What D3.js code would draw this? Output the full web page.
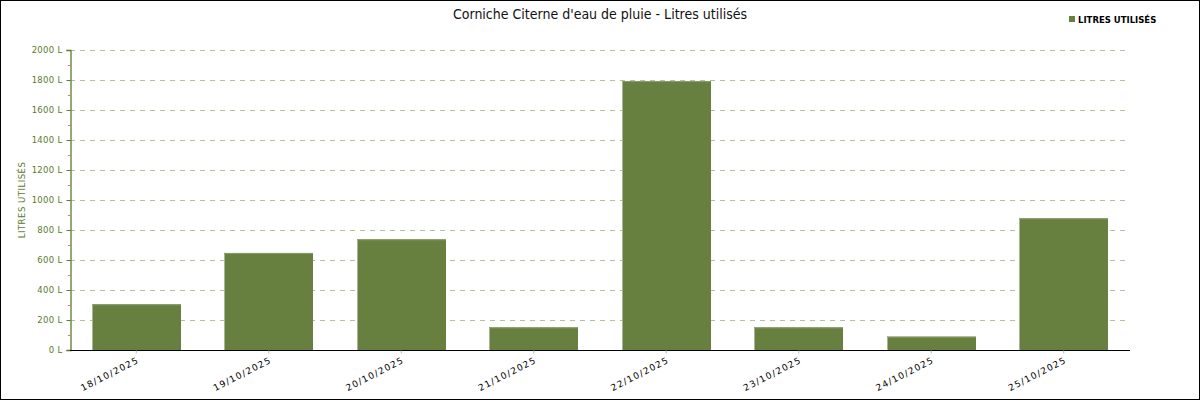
<!DOCTYPE html>
<html><head><meta charset="utf-8">
<script src="https://cdn.jsdelivr.net/npm/d3@7"></script>
<style>
html,body{margin:0;padding:0;background:#fff;}
svg{display:block;}
</style></head>
<body>
<svg id="chart" width="1200" height="400"></svg>
<script>
const title = "Corniche Citerne d'eau de pluie - Litres utilisés";
const seriesName = "LITRES UTILISÉS";
const categories = ["18/10/2025","19/10/2025","20/10/2025","21/10/2025","22/10/2025","23/10/2025","24/10/2025","25/10/2025"];
const litres = [305, 647, 738, 151, 1793, 151, 89, 878];
const yTicks = [0,200,400,600,800,1000,1200,1400,1600,1800,2000];
const yMinorTicks = [100,300,500,700,900,1100,1300,1500,1700,1900];

const svg = d3.select("#chart");
const W = 1200, H = 400;
const m = {left:70, right:70, top:50, bottom:50};
const green = "#68803f", dark = "#5b7a2b";

svg.append("rect").attr("x",0.5).attr("y",0.5).attr("width",W-1).attr("height",H-1)
  .attr("fill","#fff").attr("stroke","#000").attr("stroke-width",1);

const x = d3.scaleBand().domain(categories).range([m.left, W-m.right]).paddingInner(0.33).paddingOuter(0.165);
const y = d3.scaleLinear().domain([0,2000]).range([H-m.bottom, m.top]);

// grid
svg.append("g").selectAll("line").data(yTicks.filter(d=>d>0)).join("line")
  .attr("x1",m.left).attr("x2",W-m.right)
  .attr("y1",d=>y(d)+0.5).attr("y2",d=>y(d)+0.5)
  .attr("stroke","#b3c29a").attr("stroke-dasharray","5,5");

// bars
const bars = svg.append("g");
bars.selectAll("rect.b").data(litres).join("rect").attr("class","b")
  .attr("x",(d,i)=>Math.round(x(categories[i])))
  .attr("y",d=>y(d))
  .attr("width",Math.round(x.bandwidth()))
  .attr("height",d=>y(0)-y(d))
  .attr("fill",green);
bars.selectAll("line.e").data(litres).join("line").attr("class","e")
  .attr("x1",(d,i)=>Math.round(x(categories[i]))+0.5)
  .attr("x2",(d,i)=>Math.round(x(categories[i]))+0.5)
  .attr("y1",d=>y(d)).attr("y2",y(0))
  .attr("stroke","#a9b594").attr("stroke-width",1);
bars.selectAll("line.t").data(litres).join("line").attr("class","t")
  .attr("x1",(d,i)=>Math.round(x(categories[i])))
  .attr("x2",(d,i)=>Math.round(x(categories[i]))+Math.round(x.bandwidth()))
  .attr("y1",d=>y(d)+0.5).attr("y2",d=>y(d)+0.5)
  .attr("stroke","#8a9c6c").attr("stroke-width",1);

// y axis
const yAxis = d3.axisLeft(y).tickValues(yTicks).tickFormat(d=>d+" L").tickSize(4).tickPadding(4);
const ga = svg.append("g").attr("transform",`translate(${m.left+0.5},0)`).call(yAxis);
ga.select(".domain").attr("stroke",dark).attr("stroke-width",1.3);
ga.selectAll(".tick line").attr("stroke",dark);
ga.selectAll(".tick text").attr("fill",dark).attr("font-family","DejaVu Sans, sans-serif").attr("font-size",8.5).attr("letter-spacing",0.3);
svg.append("g").selectAll("line").data(yMinorTicks).join("line")
  .attr("x1",m.left-2).attr("x2",m.left+0.5).attr("y1",d=>y(d)+0.5).attr("y2",d=>y(d)+0.5)
  .attr("stroke","#e07070");

// x axis
const xAxis = d3.axisBottom(x).tickSize(3).tickPadding(4);
const gx = svg.append("g").attr("transform",`translate(0,${H-m.bottom+0.5})`).call(xAxis);
gx.select(".domain").attr("stroke","#000").attr("stroke-width",1.2).attr("d",`M${m.left},0H${W-m.right}`);
gx.selectAll(".tick line").attr("stroke","#bbb");
gx.selectAll(".tick text").attr("fill","#000").attr("font-family","DejaVu Sans, sans-serif").attr("font-size",9)
  .attr("letter-spacing",1.2)
  .attr("text-anchor","end").attr("dy","0.3em")
  .attr("transform","translate(-1,3) rotate(-27)");

// y label
svg.append("text").attr("transform",`translate(25,200) rotate(-90)`)
  .attr("text-anchor","middle").attr("fill",dark)
  .attr("font-family","DejaVu Sans, sans-serif").attr("font-size",8.5).attr("letter-spacing",0.5)
  .text(seriesName);

// title
svg.append("text").attr("x",600).attr("y",19).attr("text-anchor","middle")
  .attr("font-family","Liberation Sans Narrow, DejaVu Sans Condensed, sans-serif").attr("font-size",14).attr("fill","#111")
  .text(title);

// legend
svg.append("rect").attr("x",1069).attr("y",16).attr("width",6).attr("height",6).attr("fill",green);
svg.append("text").attr("x",1078).attr("y",22.5).attr("font-family","DejaVu Sans, sans-serif")
  .attr("font-size",8.5).attr("font-weight","bold").attr("fill","#000").text(seriesName);
</script>
</body></html>
